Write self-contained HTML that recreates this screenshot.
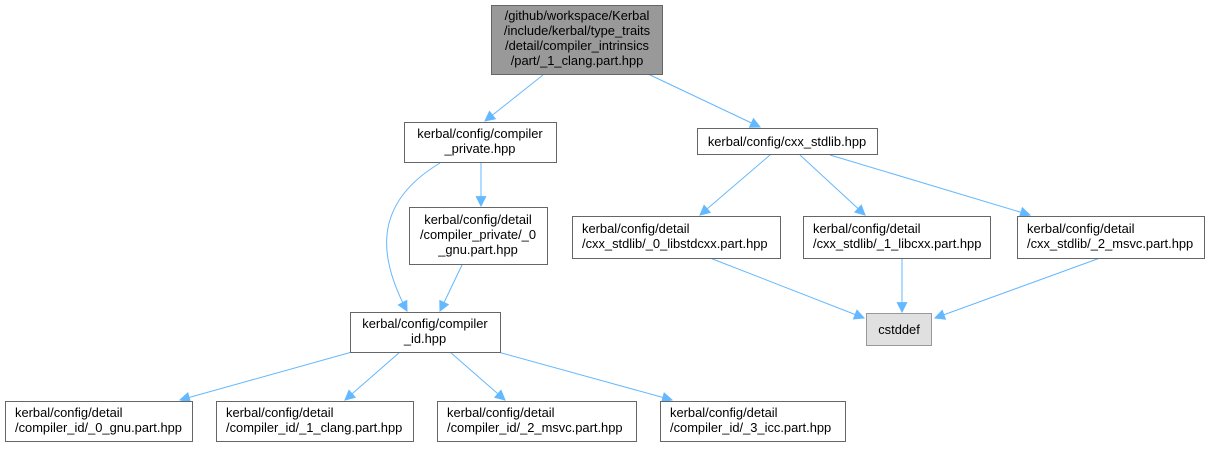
<!DOCTYPE html>
<html><head><meta charset="utf-8"><style>
html,body{margin:0;padding:0;background:#fff;}
svg text{font-family:"Liberation Sans",Helvetica,sans-serif;font-size:12.9px;fill:#000;}
</style></head><body>
<svg width="1212" height="447" viewBox="0 0 1212 447" xmlns="http://www.w3.org/2000/svg">
<defs><marker id="a" viewBox="0 0 10 10" refX="9" refY="5" markerWidth="12" markerHeight="11" markerUnits="userSpaceOnUse" orient="auto"><path d="M0,0 L10,5 L0,10 z" fill="#63b8ff"/></marker></defs>
<g stroke="#63b8ff" stroke-width="1" fill="none" marker-end="url(#a)">
<path d="M543,75 L485,121"/>
<path d="M648,74 L760,127"/>
<path d="M440,163 C370,205 380,260 407,311"/>
<path d="M481,163 L481,206"/>
<path d="M462,265 L440,311"/>
<path d="M770,155 L700,215"/>
<path d="M800,155 L865,215"/>
<path d="M830,155 L1030,215"/>
<path d="M710,258 L864,318"/>
<path d="M902,258 L902,312"/>
<path d="M1100,258 L935,318"/>
<path d="M352,352 L180,400"/>
<path d="M400,352 L345,400"/>
<path d="M450,352 L505,400"/>
<path d="M498,352 L672,400"/>
</g>
<g stroke="#666" stroke-width="1">
<rect x="491.5" y="5.5" width="171" height="69" fill="#999"/>
<rect x="404.5" y="122.5" width="152" height="40" fill="#fff"/>
<rect x="697.5" y="128.5" width="180" height="26" fill="#fff"/>
<rect x="409.5" y="207.5" width="138" height="57" fill="#fff"/>
<rect x="350.5" y="312.5" width="150" height="40" fill="#fff"/>
<rect x="572.5" y="216.5" width="208" height="42" fill="#fff"/>
<rect x="803.5" y="216.5" width="187" height="42" fill="#fff"/>
<rect x="1017.5" y="216.5" width="187" height="42" fill="#fff"/>
<rect x="866.5" y="313.5" width="65" height="32" fill="#e0e0e0" stroke="#999"/>
<rect x="5.5" y="401.5" width="187" height="40" fill="#fff"/>
<rect x="216.5" y="401.5" width="197" height="40" fill="#fff"/>
<rect x="437.5" y="401.5" width="199" height="40" fill="#fff"/>
<rect x="660.5" y="401.5" width="185" height="40" fill="#fff"/>
</g>
<g text-anchor="middle">
<text x="577" y="20">/github/workspace/Kerbal</text>
<text x="577" y="35">/include/kerbal/type_traits</text>
<text x="577" y="50">/detail/compiler_intrinsics</text>
<text x="577" y="65">/part/_1_clang.part.hpp</text>
<text x="480" y="138">kerbal/config/compiler</text>
<text x="480" y="153">_private.hpp</text>
<text x="787" y="146">kerbal/config/cxx_stdlib.hpp</text>
<text x="478" y="224">kerbal/config/detail</text>
<text x="478" y="239">/compiler_private/_0</text>
<text x="478" y="254">_gnu.part.hpp</text>
<text x="425" y="328">kerbal/config/compiler</text>
<text x="425" y="343">_id.hpp</text>
<text x="899" y="334">cstddef</text>
</g>
<g>
<text x="582" y="233">kerbal/config/detail</text>
<text x="582" y="248">/cxx_stdlib/_0_libstdcxx.part.hpp</text>
<text x="813" y="233">kerbal/config/detail</text>
<text x="813" y="248">/cxx_stdlib/_1_libcxx.part.hpp</text>
<text x="1027" y="233">kerbal/config/detail</text>
<text x="1027" y="248">/cxx_stdlib/_2_msvc.part.hpp</text>
<text x="15" y="417">kerbal/config/detail</text>
<text x="15" y="432">/compiler_id/_0_gnu.part.hpp</text>
<text x="226" y="417">kerbal/config/detail</text>
<text x="226" y="432">/compiler_id/_1_clang.part.hpp</text>
<text x="447" y="417">kerbal/config/detail</text>
<text x="447" y="432">/compiler_id/_2_msvc.part.hpp</text>
<text x="670" y="417">kerbal/config/detail</text>
<text x="670" y="432">/compiler_id/_3_icc.part.hpp</text>
</g>
</svg>
</body></html>
